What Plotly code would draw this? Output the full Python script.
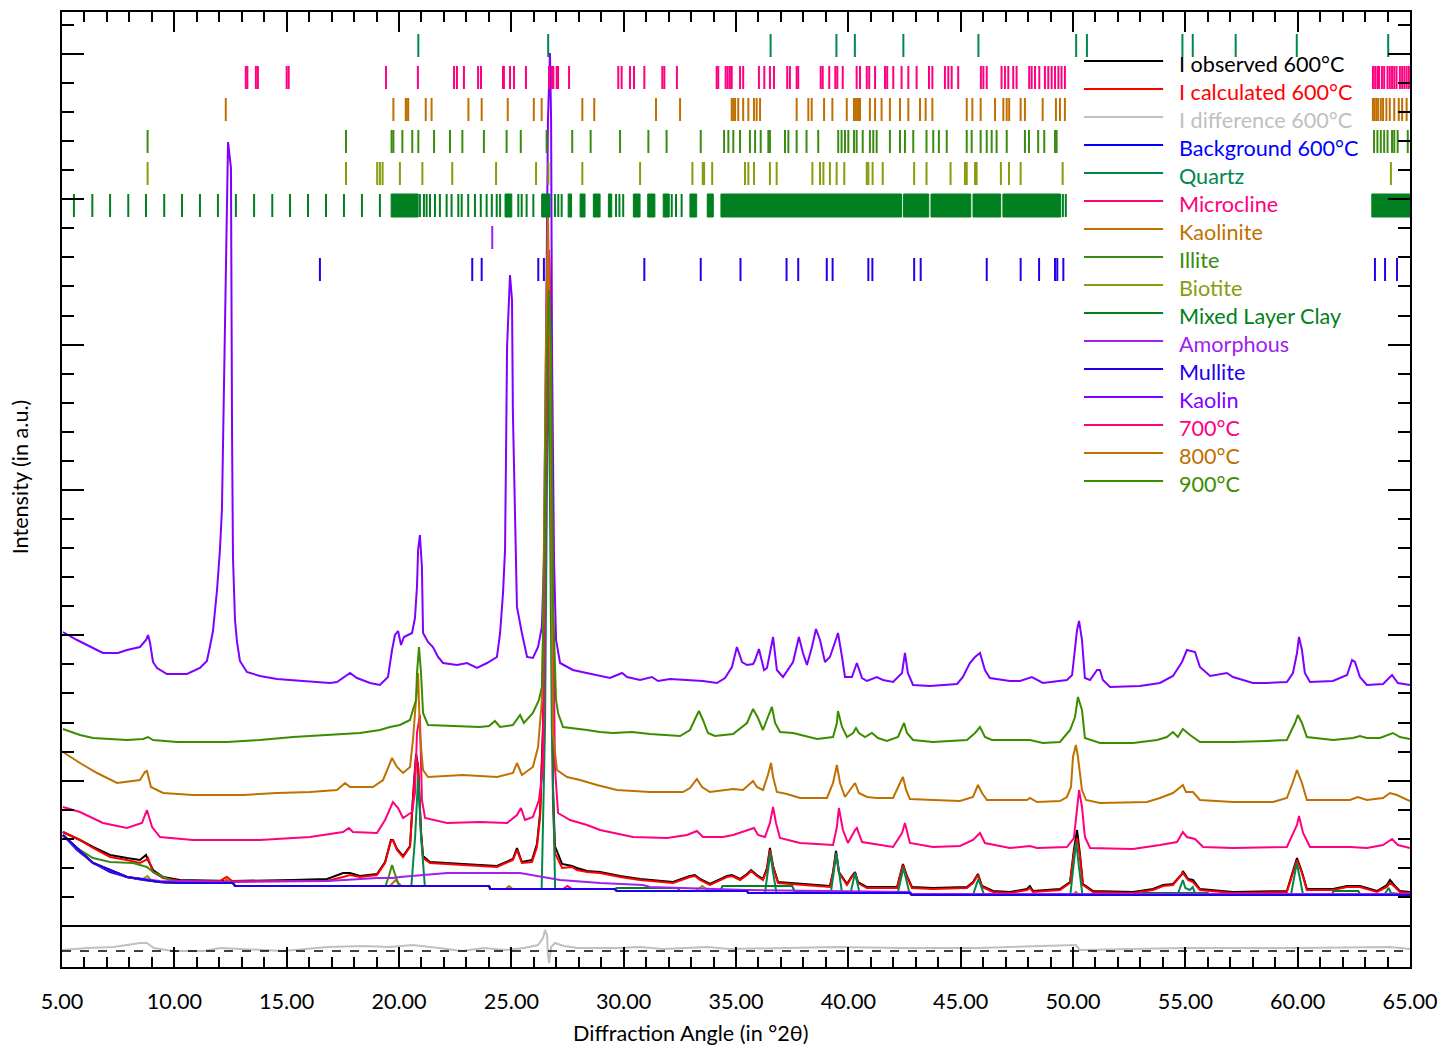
import plotly.graph_objects as go

# ---------------- axis tick labels ----------------
x_tick_vals = [5, 10, 15, 20, 25, 30, 35, 40, 45, 50, 55, 60, 65]
x_tick_text = ["5.00", "10.00", "15.00", "20.00", "25.00", "30.00", "35.00",
               "40.00", "45.00", "50.00", "55.00", "60.00", "65.00"]

# ---------------- curves: (2theta, intensity a.u.) ----------------
kaolin = [(5.04,294),(5.67,286),(6.38,278),(6.82,273),(7.49,273),(7.89,276),(8.47,279),(8.74,286),(8.83,291),(8.92,283),
          (9.05,264),(9.23,258),(9.67,252),(10.56,252),(11.14,258),(11.45,265),(11.59,280),(11.72,295),(11.90,336),(12.03,376),
          (12.12,417),(12.17,480),(12.25,565),(12.34,717),(12.39,784),(12.52,758),(12.57,491),(12.61,369),(12.70,306),(12.79,284),
          (12.92,265),(13.23,254),(13.81,250),(14.57,247),(15.73,245),(16.93,243),(17.24,244),(17.82,253),(18.13,248),(18.71,243),
          (19.15,241),(19.51,249),(19.69,276),(19.82,291),(19.96,295),(20.09,281),(20.22,289),(20.58,293),(20.71,308),(20.80,339),
          (20.85,376),(20.93,391),(21.02,359),(21.07,293),(21.29,284),(21.51,279),(21.74,269),(21.96,263),(22.58,261),(23.03,263),
          (23.47,258),(23.92,263),(24.36,269),(24.50,293),(24.63,333),(24.72,376),(24.76,463),(24.81,579),(24.94,651),(25.03,626),
          (25.07,513),(25.12,463),(25.16,426),(25.25,319),(25.47,293),(25.70,269),(25.96,268),(26.19,279),(26.36,299),(26.45,366),
          (26.54,576),(26.63,806),(26.72,873),(26.77,806),(26.81,576),(26.90,366),(26.99,286),(27.17,263),(27.74,256),(28.37,253),
          (28.95,250),(29.39,248),(29.93,253),(30.15,249),(30.73,246),(31.26,249),(31.53,245),(32.06,247),(33.53,245),(34.15,243),
          (34.51,248),(34.82,259),(35.04,279),(35.27,264),(35.49,261),(35.76,262),(35.85,266),(36.02,277),(36.25,256),(36.38,258),
          (36.65,289),(36.82,256),(37.09,249),(37.54,264),(37.80,289),(37.98,273),(38.16,261),(38.38,279),(38.56,297),(38.74,286),
          (38.96,264),(39.18,269),(39.41,284),(39.54,293),(39.72,269),(39.85,249),(40.16,249),(40.38,263),(40.61,248),(40.83,245),
          (41.27,249),(41.54,246),(41.99,244),(42.39,253),(42.52,273),(42.65,253),(42.88,241),(43.63,240),(44.84,242),(45.10,249),
          (45.41,263),(45.64,269),(45.86,273),(46.08,256),(46.30,248),(47.19,245),(47.64,245),(48.17,249),(48.66,243),(49.73,246),
          (49.96,251),(50.18,296),(50.27,305),(50.40,286),(50.53,248),(50.76,246),(51.07,256),(51.20,256),(51.33,246),(51.65,239),
          (52.98,240),(53.87,243),(54.45,250),(54.85,264),(55.07,276),(55.43,274),(55.65,259),(56.10,250),(56.85,253),(57.12,249),
          (58.01,243),(58.63,243),(59.52,244),(59.79,253),(59.97,273),(60.06,289),(60.19,276),(60.32,253),(60.55,244),(61.57,245),
          (62.20,251),(62.42,266),(62.55,264),(62.77,249),(63.08,241),(63.80,242),(64.20,251),(64.46,243),(65.00,241)]

t900 = [(5.04,197),(5.80,191),(6.38,188),(7.89,186),(8.61,187),(8.83,189),(9.05,186),(10.12,184),(12.34,184),(13.81,186),
        (15.28,189),(16.80,191),(18.26,193),(19.15,196),(19.60,199),(20.04,201),(20.49,206),(20.62,216),(20.76,226),(20.80,253),
        (20.89,279),(20.98,253),(21.07,213),(21.29,201),(22.14,200),(23.60,199),(24.01,200),(24.27,205),(24.50,199),(25.07,201),
        (25.39,211),(25.56,203),(25.96,213),(26.23,226),(26.36,239),(26.45,326),(26.59,576),(26.68,636),(26.77,576),(26.85,326),
        (26.99,226),(27.08,213),(27.30,199),(27.74,198),(28.37,196),(28.95,194),(29.52,193),(30.37,194),(31.17,192),(32.51,190),
        (32.95,196),(33.22,209),(33.35,215),(33.53,206),(33.75,193),(34.06,190),(34.87,192),(35.49,203),(35.76,217),(35.98,208),
        (36.20,196),(36.42,209),(36.60,219),(36.74,203),(36.96,194),(37.54,193),(38.61,187),(39.32,189),(39.49,203),(39.54,215),
        (39.72,199),(39.94,189),(40.21,193),(40.34,198),(40.47,193),(40.74,189),(41.05,193),(41.32,188),(41.72,185),(42.21,189),
        (42.39,199),(42.48,203),(42.61,193),(42.88,186),(43.77,184),(45.28,186),(45.64,193),(45.86,199),(46.08,189),(46.39,186),
        (48.08,186),(48.66,183),(49.42,184),(49.87,196),(50.09,209),(50.22,229),(50.40,216),(50.53,188),(51.20,183),(52.67,183),
        (53.74,186),(54.18,189),(54.45,194),(54.67,189),(54.89,197),(55.21,191),(55.65,184),(57.12,184),(58.63,185),(59.52,186),
        (59.88,203),(60.01,211),(60.19,203),(60.41,189),(61.57,186),(62.46,188),(62.77,190),(63.08,188),(63.66,188),(64.24,193),
        (64.55,189),(65.00,187)]

t800 = [(5.04,174),(5.80,163),(6.56,153),(7.45,143),(8.47,146),(8.69,154),(8.78,155),(8.96,139),(9.50,133),(10.83,131),
        (13.06,131),(14.57,133),(16.04,134),(17.24,136),(17.60,143),(17.82,139),(18.84,139),(19.29,146),(19.69,168),(19.91,159),
        (20.18,153),(20.49,159),(20.62,186),(20.76,226),(20.85,253),(20.93,193),(21.07,156),(21.29,149),(22.85,151),(24.36,149),
        (25.07,153),(25.25,163),(25.47,151),(25.96,159),(26.19,179),(26.36,226),(26.41,293),(26.54,576),(26.63,713),(26.72,576),
        (26.81,326),(26.85,193),(27.03,156),(27.48,149),(28.06,146),(28.81,141),(29.70,136),(31.17,134),(32.64,134),(32.95,138),
        (33.26,147),(33.49,139),(33.84,134),(34.87,137),(35.31,136),(35.58,141),(35.76,145),(35.93,139),(36.20,136),(36.42,151),
        (36.56,163),(36.65,149),(36.82,134),(37.27,132),(37.85,128),(39.05,128),(39.32,143),(39.49,161),(39.63,143),(39.85,129),
        (40.16,138),(40.30,143),(40.47,133),(40.83,129),(41.27,128),(41.99,128),(42.30,143),(42.43,149),(42.57,136),(42.74,127),
        (43.77,126),(44.97,125),(45.55,129),(45.77,141),(45.95,133),(46.17,126),(47.95,126),(48.08,128),(48.40,124),(49.42,125),
        (49.73,129),(49.91,139),(50.00,169),(50.13,181),(50.22,169),(50.40,136),(50.58,126),(51.20,123),(53.29,124),(53.87,128),
        (54.45,133),(54.76,138),(54.89,141),(55.03,134),(55.34,134),(55.65,126),(57.12,124),(58.90,124),(59.52,128),(59.79,144),
        (59.97,156),(60.19,143),(60.41,126),(62.33,126),(62.68,129),(63.08,126),(63.80,128),(64.11,133),(64.42,131),(65.00,125)]

t700 = [(5.04,119),(5.80,114),(6.82,103),(7.89,98),(8.56,103),(8.78,116),(9.01,99),(9.36,89),(10.83,86),(13.81,86),
        (16.04,89),(17.51,94),(17.77,98),(17.95,94),(19.02,93),(19.38,106),(19.73,124),(19.96,118),(20.18,108),(20.58,114),
        (20.71,133),(20.80,193),(20.93,211),(21.02,126),(21.16,108),(22.14,103),(23.60,104),(24.81,103),(25.25,111),(25.43,118),
        (25.61,106),(25.96,109),(26.23,126),(26.41,159),(26.54,426),(26.68,676),(26.81,426),(26.94,159),(27.08,113),(27.61,106),
        (28.37,101),(28.95,96),(30.41,89),(31.93,88),(32.82,91),(33.26,95),(33.53,89),(34.42,89),(34.87,91),(35.49,96),
        (35.80,98),(35.98,91),(36.29,89),(36.51,103),(36.65,119),(36.78,103),(36.96,88),(37.85,83),(39.32,81),(39.49,99),
        (39.58,118),(39.76,96),(39.98,83),(40.30,96),(40.38,98),(40.61,84),(41.99,79),(42.39,93),(42.52,103),(42.74,83),
        (43.77,79),(44.97,80),(45.55,86),(45.86,93),(46.08,83),(47.19,78),(48.08,80),(48.40,78),(49.73,79),(50.04,88),
        (50.18,119),(50.27,136),(50.40,119),(50.53,89),(50.76,78),(52.67,77),(53.87,81),(54.63,84),(54.89,94),(55.07,89),
        (55.43,87),(55.79,79),(57.12,78),(59.52,79),(59.97,101),(60.06,110),(60.24,93),(60.55,79),(62.33,79),(63.08,78),
        (63.80,81),(64.20,87),(64.46,81),(65.00,78)]

obs600 = [(5.04,94),(5.80,86),(6.38,79),(7.14,71),(7.89,68),(8.47,66),(8.74,71),(8.83,66),(9.05,56),(9.50,49),
          (10.25,46),(12.03,45),(12.57,45),(15.28,46),(16.80,47),(17.51,53),(17.82,53),(18.26,50),(19.02,52),(19.38,64),
          (19.64,86),(19.73,86),(19.91,77),(20.18,70),(20.49,80),(20.62,128),(20.76,172),(20.85,160),(20.98,94),(21.07,70),
          (21.38,64),(22.85,62),(24.36,60),(25.07,67),(25.25,78),(25.47,64),(25.92,66),(26.14,82),(26.28,113),(26.41,200),
          (26.54,480),(26.68,668),(26.81,470),(26.85,140),(26.94,80),(27.26,62),(27.70,60),(27.92,58),(28.37,55),(28.95,54),
          (29.84,50),(30.73,47),(32.20,44),(32.95,50),(33.17,51),(33.40,47),(33.84,42),(34.60,50),(34.82,51),(35.18,47),
          (35.49,52),(35.67,56),(35.93,51),(36.20,47),(36.38,58),(36.51,78),(36.65,60),(36.87,44),(37.85,42),(39.18,40),
          (39.32,54),(39.45,75),(39.58,54),(39.94,42),(40.16,50),(40.30,54),(40.43,44),(40.83,39),(42.17,39),(42.34,54),
          (42.43,62),(42.61,50),(42.83,39),(43.77,38),(45.28,39),(45.55,44),(45.77,52),(45.95,40),(46.44,35),(47.19,34),
          (47.95,37),(48.08,40),(48.22,35),(49.42,37),(49.87,44),(50.04,76),(50.18,96),(50.31,72),(50.44,42),(50.89,35),
          (52.67,34),(53.56,37),(54.01,41),(54.45,42),(54.85,52),(54.89,55),(55.12,47),(55.34,46),(55.65,37),(57.12,34),
          (59.52,35),(59.79,55),(59.97,68),(60.19,54),(60.41,37),(61.57,37),(62.20,40),(62.77,40),(63.53,35),(63.97,41),
          (64.11,46),(64.33,40),(64.55,35),(65.00,34)]

calc600 = [(5.04,94),(5.80,86),(6.38,78),(7.14,69),(7.89,66),(8.47,63),(8.74,66),(8.83,68),(9.05,54),(9.50,48),
           (10.25,45),(12.03,45),(12.25,48),(12.34,49),(12.57,45),(15.28,45),(16.80,45),(17.51,49),(17.82,51),(18.26,49),
           (19.02,51),(19.38,63),(19.64,85),(19.73,86),(19.91,76),(20.18,69),(20.49,79),(20.62,126),(20.76,169),(20.85,159),
           (20.98,93),(21.07,68),(21.38,63),(22.85,61),(24.36,59),(25.07,66),(25.25,76),(25.47,63),(25.92,64),(26.14,79),
           (26.28,109),(26.41,193),(26.54,476),(26.68,671),(26.81,476),(26.85,126),(26.94,73),(27.26,58),(27.70,59),(27.92,56),
           (28.37,54),(28.95,53),(29.84,49),(30.73,46),(32.20,43),(32.95,49),(33.17,50),(33.40,46),(33.84,41),(34.60,49),
           (34.82,50),(35.18,46),(35.49,51),(35.67,55),(35.93,50),(36.20,46),(36.38,56),(36.51,76),(36.65,59),(36.87,43),
           (37.85,41),(39.18,39),(39.32,53),(39.45,73),(39.58,53),(39.94,41),(40.16,49),(40.30,53),(40.43,43),(40.83,38),
           (42.17,38),(42.34,53),(42.43,61),(42.61,49),(42.83,38),(43.77,37),(45.28,38),(45.55,43),(45.77,51),(45.95,39),
           (46.44,34),(47.19,33),(47.95,36),(48.08,38),(48.22,34),(49.42,36),(49.87,43),(50.04,73),(50.18,88),(50.31,69),
           (50.44,41),(50.89,34),(52.67,33),(53.56,36),(54.01,40),(54.45,41),(54.85,51),(54.89,53),(55.12,46),(55.34,44),
           (55.65,36),(57.12,33),(59.52,34),(59.79,53),(59.97,66),(60.19,53),(60.41,36),(61.57,36),(62.20,39),(62.77,39),
           (63.53,34),(63.97,39),(64.11,43),(64.33,39),(64.55,34),(65.00,33)]

diff600 = [(5.00,-24),(6.11,-22),(7.31,-21),(8.47,-17),(8.78,-17),(9.09,-22),(9.90,-25),(11.28,-25),(12.08,-22),(13.63,-24),
           (14.84,-25),(16.84,-21),(18.44,-20),(19.60,-21),(20.62,-19),(21.78,-22),(22.80,-25),(23.78,-22),(24.76,-24),(25.56,-22),
           (26.19,-19),(26.41,-12),(26.50,-4),(26.59,-9),(26.63,-29),(26.68,-37),(26.77,-21),(26.94,-17),(27.34,-20),(27.97,-22),
           (29.75,-22),(30.73,-21),(31.75,-23),(32.73,-22),(33.71,-21),(34.73,-23),(36.51,-22),(39.45,-21),(42.30,-22),(45.77,-22),
           (50.13,-19),(50.31,-24),(54.89,-22),(59.97,-22),(64.11,-21),(65.00,-23)]

background600 = [(5.04,91),(5.67,76),(6.38,63),(7.14,54),(7.89,49),(8.61,46),(9.36,44),(10.25,43),(12.61,43),(12.70,40),
                 (24.01,40),(24.06,37),(29.60,37),(29.70,35),(35.49,35),(35.55,33),(42.74,33),(42.83,31),(65.00,31)]

quartz = [(5.04,91),(6.38,63),(7.89,49),(9.36,44),(10.25,43),(12.61,43),(12.70,40),(20.55,40),(20.72,90),(20.85,149),
          (20.98,90),(21.15,40),(24.01,40),(24.06,37),(26.35,37),(26.50,200),(26.65,620),(26.80,200),(26.95,37),(29.60,37),
          (29.70,35),(35.49,35),(35.55,33),(36.29,33),(36.42,55),(36.53,73),(36.64,55),(36.80,33),(39.22,33),(39.36,55),
          (39.47,73),(39.58,55),(39.72,33),(40.10,33),(40.22,45),(40.30,53),(40.38,45),(40.50,33),(42.20,33),(42.34,48),
          (42.45,58),(42.56,48),(42.72,33),(42.83,31),(45.55,31),(45.68,40),(45.79,47),(45.90,40),(46.05,31),(49.88,31),
          (50.02,60),(50.14,84),(50.26,60),(50.42,31),(54.65,31),(54.78,40),(54.89,46),(55.00,38),(55.20,36),(55.33,39),
          (55.45,31),(59.70,31),(59.84,50),(59.96,63),(60.08,50),(60.24,31),(63.85,31),(63.98,36),(64.05,38),(64.15,33),
          (65.00,31)]

microcline = [(5.04,91),(6.38,63),(7.89,49),(9.36,44),(10.25,43),(12.61,43),(12.70,40),(24.01,40),(24.06,37),(27.30,37),
              (27.50,40),(27.70,37),(29.60,37),(29.70,35),(35.49,35),(35.55,33),(42.74,33),(42.83,31),(65.00,31)]

kaolinite = [(5.04,91),(6.38,63),(7.89,49),(9.36,44),(10.25,43),(12.15,43),(12.35,47),(12.55,43),(12.61,43),(12.70,40),
             (19.60,40),(19.85,46),(20.10,40),(24.01,40),(24.06,37),(24.75,37),(24.90,40),(25.05,37),(29.60,37),(29.70,35),
             (35.49,35),(35.55,33),(42.74,33),(42.83,31),(50.00,31),(50.13,34),(50.26,31),(65.00,31)]

illite = [(5.04,91),(5.67,78),(6.38,68),(7.14,64),(8.16,63),(8.78,59),(9.05,54),(9.50,49),(9.81,46),(10.25,43),
          (12.61,43),(12.70,40),(19.40,40),(19.55,50),(19.69,61),(19.85,50),(20.00,40),(24.01,40),(24.06,37),(29.60,37),
          (29.70,35),(35.49,35),(35.55,33),(42.74,33),(42.83,31),(65.00,31)]

biotite = [(5.04,91),(6.38,63),(7.89,49),(8.60,47),(8.80,50),(9.00,45),(9.36,44),(10.25,43),(12.61,43),(12.70,40),
           (24.01,40),(24.06,37),(29.60,37),(29.70,35),(33.20,35),(33.50,40),(33.80,35),(35.49,35),(35.55,33),(42.74,33),
           (42.83,31),(65.00,31)]

mixed_layer_clay = [(5.04,91),(6.38,63),(7.89,49),(9.36,44),(10.25,43),(12.61,43),(12.70,40),(24.01,40),(24.06,37),(29.60,37),
                    (29.70,38),(32.40,38),(32.50,35),(34.30,35),(34.40,40),(37.50,40),(37.60,35),(42.74,33),(42.83,31),(53.00,31),
                    (53.10,33),(56.00,33),(56.10,31),(61.50,31),(61.60,35),(62.70,35),(62.80,31),(65.00,31)]

amorphous = [(5.04,91),(6.38,63),(7.89,49),(9.36,45),(12.61,44),(16.84,45),(19.02,48),(19.73,48),(20.04,49),(22.14,53),
             (25.39,53),(26.14,50),(27.17,46),(28.95,43),(30.86,41),(31.17,39),(32.51,38),(35.49,36),(42.74,34),(42.83,32),
             (65.00,32)]

mullite = [(5.04,91),(6.38,63),(7.89,49),(9.36,44),(10.25,43),(12.61,43),(12.70,40),(24.01,40),(24.06,37),(29.60,37),
           (29.70,35),(35.49,35),(35.55,33),(42.74,33),(42.83,31),(65.00,31)]

# ---------------- reflection positions (2theta) ----------------
quartz_refl = [20.86, 26.64, 36.54, 39.47, 40.29, 42.45, 45.79, 50.14, 50.62, 54.87, 55.33, 57.24, 59.96, 64.03]
microcline_refl = [13.18, 13.25, 13.63, 13.72, 15.00, 15.09, 19.42, 20.84, 22.45, 22.58, 22.89, 23.52, 23.65, 24.63, 24.67,
                   24.94, 25.12, 25.65, 26.68, 26.81, 26.87, 27.02, 27.08, 27.57, 29.76, 29.91, 30.28, 30.46, 30.92, 31.72,
                   31.81, 32.37, 34.14, 34.21, 34.54, 34.63, 34.73, 34.81, 35.18, 35.32, 36.02, 36.26, 36.51, 36.69, 37.28,
                   37.40, 37.70, 37.77, 38.77, 38.86, 39.15, 39.42, 39.51, 39.75, 40.37, 40.52, 40.82, 40.93, 41.19, 41.63,
                   41.73, 42.00, 42.37, 42.67, 43.04, 43.59, 43.74, 44.30, 44.45, 44.60, 44.89, 45.90, 46.01, 46.16, 46.82,
                   46.97, 47.12, 47.34, 47.49, 48.05, 48.16, 48.31, 48.50, 48.75, 48.90, 49.05, 49.20, 49.35, 49.49, 49.64,
                   63.35, 63.45, 63.55, 63.62, 63.75, 63.85, 64.00, 64.10, 64.20, 64.30, 64.40, 64.55, 64.65, 64.75, 64.85, 64.95]
kaolinite_refl = [12.29, 19.75, 20.30, 20.34, 20.41, 21.19, 21.45, 23.09, 23.68, 24.84, 26.00, 26.35, 28.16, 28.69, 31.44,
                  32.51, 34.81, 34.88, 34.96, 35.10, 35.32, 35.55, 35.80, 35.92, 36.07, 37.70, 38.22, 38.37, 38.92, 39.29,
                  39.93, 40.25, 40.34, 40.43, 40.52, 40.96, 41.19, 41.48, 41.85, 42.30, 42.67, 43.19, 43.44, 43.74, 45.27,
                  45.52, 45.89, 46.53, 46.90, 47.05, 47.16, 47.67, 47.86, 48.65, 49.24, 49.42, 49.64,
                  63.35, 63.42, 63.50, 63.58, 63.70, 63.80, 63.95, 64.10, 64.30, 64.50, 64.65, 64.85]
illite_refl = [8.81, 17.64, 19.67, 19.75, 20.15, 20.59, 20.86, 21.56, 22.27, 22.82, 23.78, 24.79, 25.42, 26.57, 27.71,
               28.53, 29.84, 31.10, 31.91, 33.43, 34.47, 34.66, 34.88, 35.18, 35.62, 35.85, 36.10, 36.44, 36.51, 37.18,
               37.33, 37.70, 38.14, 38.66, 39.55, 39.70, 39.85, 40.00, 40.25, 40.37, 40.64, 40.96, 41.11, 41.26, 41.85,
               42.30, 42.52, 42.89, 43.48, 43.78, 44.03, 44.38, 45.27, 45.49, 45.89, 46.16, 46.38, 46.60, 47.05, 47.86,
               48.04, 48.45, 48.72, 49.20, 49.27, 63.40, 63.55, 63.70, 63.85, 64.00, 64.20, 64.30, 64.45, 64.90]
biotite_refl = [8.81, 17.64, 19.03, 19.15, 19.27, 20.04, 21.04, 22.37, 24.32, 26.10, 26.65, 28.16, 30.73, 33.06, 33.52,
                33.58, 33.94, 35.40, 35.55, 35.80, 36.51, 36.81, 38.40, 38.74, 38.89, 39.18, 39.48, 39.82, 40.82, 40.89,
                41.08, 41.53, 42.93, 43.48, 44.55, 45.19, 45.27, 45.64, 45.71, 46.79, 47.15, 47.67, 49.54, 64.15]
mlc_refl = [5.53, 6.35, 7.14, 7.95, 8.74, 9.55, 10.34, 11.14, 11.94, 12.74, 13.55, 14.36, 15.15, 15.95, 16.75, 17.55,
            18.35, 19.15, 20.93, 21.11, 21.23, 21.38, 21.60, 21.82, 22.12, 22.34, 22.64, 22.79, 23.08, 23.38, 23.64,
            23.90, 24.13, 24.35, 24.50, 25.31, 25.46, 25.68, 25.98, 26.94, 27.09, 27.24, 29.66, 29.81, 29.98, 32.14,
            32.33, 32.58, 49.55, 49.68]
mlc_refl_bands = [(19.65, 20.85), (24.72, 25.02), (26.35, 26.72), (27.53, 27.68), (28.06, 28.28), (28.65, 28.95),
                  (29.32, 29.47), (30.43, 30.73), (31.07, 31.39), (31.76, 32.03), (32.95, 33.25), (33.72, 33.99),
                  (34.33, 42.37), (42.45, 43.58), (43.68, 45.45), (45.55, 46.78), (46.88, 49.45), (63.30, 65.00)]
amorphous_refl = [24.15]
mullite_refl = [16.48, 23.26, 23.68, 26.20, 26.45, 30.92, 33.43, 35.20, 37.25, 37.77, 39.04, 39.30, 40.89, 41.07, 42.93,
                43.22, 46.16, 47.67, 48.49, 49.20, 49.30, 49.57, 63.44, 63.89, 64.42]

# ---------------- styling ----------------
C = {
    "obs": "#000000", "calc": "#FF0000", "diff": "#C0C0C0", "bg": "#0000FF",
    "quartz": "#00884A", "microcline": "#FF0080", "kaolinite": "#C07000", "illite": "#3A8C10",
    "biotite": "#8A9B0F", "mlc": "#008020", "amorphous": "#A020F0", "mullite": "#2200EE",
    "kaolin": "#7F00FF", "t700": "#FF0080", "t800": "#C07000", "t900": "#3C8C00",
}
FONT = "Lato, 'Open Sans', sans-serif"
FS = 21.6

series = [
    ("I observed 600°C", obs600, C["obs"]),
    ("I calculated 600°C", calc600, C["calc"]),
    ("I difference 600°C", diff600, C["diff"]),
    ("Background 600°C", background600, C["bg"]),
    ("Quartz", quartz, C["quartz"]),
    ("Microcline", microcline, C["microcline"]),
    ("Kaolinite", kaolinite, C["kaolinite"]),
    ("Illite", illite, C["illite"]),
    ("Biotite", biotite, C["biotite"]),
    ("Mixed Layer Clay", mixed_layer_clay, C["mlc"]),
    ("Amorphous", amorphous, C["amorphous"]),
    ("Mullite", mullite, C["mullite"]),
    ("Kaolin", kaolin, C["kaolin"]),
    ("700°C", t700, C["t700"]),
    ("800°C", t800, C["t800"]),
    ("900°C", t900, C["t900"]),
]

refl_rows = [
    ("Quartz", quartz_refl, [], C["quartz"]),
    ("Microcline", microcline_refl, [], C["microcline"]),
    ("Kaolinite", kaolinite_refl, [], C["kaolinite"]),
    ("Illite", illite_refl, [], C["illite"]),
    ("Biotite", biotite_refl, [], C["biotite"]),
    ("Mixed Layer Clay", mlc_refl, mlc_refl_bands, C["mlc"]),
    ("Amorphous", amorphous_refl, [], C["amorphous"]),
    ("Mullite", mullite_refl, [], C["mullite"]),
]

fig = go.Figure()

# curves
for name, data, color in series:
    fig.add_trace(go.Scatter(
        x=[p[0] for p in data], y=[p[1] for p in data], mode="lines", name=name,
        line=dict(color=color, width=2), showlegend=False, hoverinfo="skip"))

# reflection tick rows
ROW_TOP, ROW_STEP, ROW_LEN = 892, 32, 23
for i, (name, ticks, bands, color) in enumerate(refl_rows):
    top = ROW_TOP - i * ROW_STEP
    bot = top - ROW_LEN
    xs, ys = [], []
    for t in ticks:
        xs += [t, t, None]
        ys += [bot, top, None]
    fig.add_trace(go.Scatter(x=xs, y=ys, mode="lines", line=dict(color=color, width=2),
                             showlegend=False, hoverinfo="skip"))
    if bands:
        bx, by = [], []
        for a, b in bands:
            bx += [a, b, b, a, a, None]
            by += [bot, bot, top, top, bot, None]
        fig.add_trace(go.Scatter(x=bx, y=by, mode="lines", fill="toself", fillcolor=color,
                                 line=dict(color=color, width=1), showlegend=False, hoverinfo="skip"))

# separator between main and difference panel, and zero line of difference
fig.add_shape(type="line", xref="paper", x0=0, x1=1, yref="y", y0=0, y1=0,
              line=dict(color="black", width=2))
fig.add_shape(type="line", xref="paper", x0=0, x1=1, yref="y", y0=-25, y1=-25,
              line=dict(color="black", width=1.5, dash="dash"))

# manual legend
LEG_TOP, LEG_STEP = 865, 28
for i, (name, data, color) in enumerate(series):
    yv = LEG_TOP - i * LEG_STEP
    fig.add_shape(type="line", xref="x", yref="y", x0=50.49, x1=54.01, y0=yv, y1=yv,
                  line=dict(color=color, width=2))
    fig.add_annotation(x=54.62, y=yv - 3, xref="x", yref="y", text=name, showarrow=False,
                       xanchor="left", yanchor="middle",
                       font=dict(family=FONT, size=FS, color=color))

# axis titles (positioned as in the original, slightly off-centre)
fig.add_annotation(x=0.466, y=-0.069, xref="paper", yref="paper", text="Diffraction Angle (in °2θ)",
                   showarrow=False, xanchor="center", yanchor="middle",
                   font=dict(family=FONT, size=FS, color="black"))
fig.add_annotation(x=-0.031, y=0.513, xref="paper", yref="paper", text="Intensity (in a.u.)",
                   showarrow=False, xanchor="center", yanchor="middle", textangle=-90,
                   font=dict(family=FONT, size=FS, color="black"))

minor_y = [k * 29.07 for k in range(32)]
major_y = [k * 145.35 for k in range(7)]

fig.update_layout(
    width=1455, height=1049,
    margin=dict(l=62, r=45, t=12, b=82),
    paper_bgcolor="white", plot_bgcolor="white",
    font=dict(family=FONT, size=FS, color="black"),
    showlegend=False,
    xaxis=dict(
        range=[5, 65], tickmode="array", tickvals=x_tick_vals, ticktext=x_tick_text,
        ticks="inside", ticklen=20, tickwidth=2, tickcolor="black",
        minor=dict(ticks="inside", ticklen=10, tickwidth=2, tickcolor="black", dtick=1, tick0=5, showgrid=False),
        showline=True, linewidth=2, linecolor="black", mirror="allticks",
        showgrid=False, zeroline=False, ticklabelstandoff=14,
        tickfont=dict(family=FONT, size=FS, color="black"),
        automargin=False,
    ),
    yaxis=dict(
        range=[-41, 914], tickmode="array", tickvals=major_y, showticklabels=False,
        ticks="inside", ticklen=22, tickwidth=2, tickcolor="black",
        minor=dict(ticks="inside", ticklen=12, tickwidth=2, tickcolor="black", tickvals=minor_y, showgrid=False),
        showline=True, linewidth=2, linecolor="black", mirror="allticks",
        showgrid=False, zeroline=False,
        automargin=False,
    ),
)

fig.write_html("out.html", config={"displayModeBar": False},
               post_script="document.body.style.margin='0px';")
